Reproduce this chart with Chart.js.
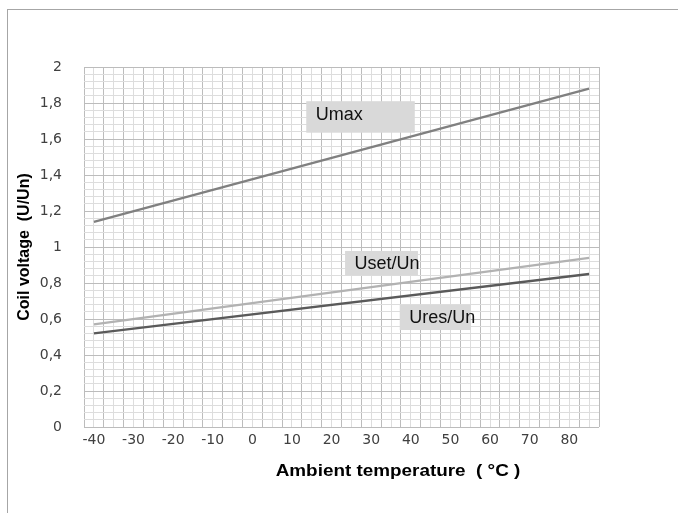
<!DOCTYPE html>
<html lang="en">
<head>
  <meta charset="UTF-8">
  <title>Coil voltage</title>
  <script src="https://cdn.jsdelivr.net/npm/chart.js"></script>
  <style>
    html, body {
      margin: 0;
      padding: 0;
      background: #fff;
      overflow: hidden;
    }
    #wrap {
      position: relative;
      width: 678px;
      height: 513px;
    }
    #frame {
      position: absolute;
      left: 7px;
      top: 9px;
      right: -10px;
      bottom: -10px;
      border-left: 1.5px solid #a6a6a6;
      border-top: 1.5px solid #a6a6a6;
    }
    canvas {
      position: absolute;
      left: 0;
      top: 0;
    }
  </style>
</head>
<body>
<div id="wrap">
  <div id="frame"></div>
  <canvas id="chart" width="678" height="513"></canvas>
</div>

<script>
  // readings (temperature in °C, voltage as U/Un)
  const temps = [-40, 85];
  const umax = [1.14, 1.88];
  const uset = [0.57, 0.94];
  const ures = [0.52, 0.85];
  const xTickLabels = [-40, -30, -20, -10, 0, 10, 20, 30, 40, 50, 60, 70, 80];
  const yTickLabels = [0, 0.2, 0.4, 0.6, 0.8, 1, 1.2, 1.4, 1.6, 1.8, 2];

  // text boxes placed in data units: [text, xFrom, xTo, yTop, yBottom]
  const notes = [
    ['Umax', 13.6, 41.0, 1.81, 1.635],
    ['Uset/Un', 23.4, 41.8, 0.978, 0.844],
    ['Ures/Un', 37.2, 55.1, 0.678, 0.539]
  ];

  const toPts = (ys) => ys.map((y, i) => ({ x: temps[i], y: y }));

  const near = (a, b) => Math.abs(a - b) < 1e-6;

  const notesPlugin = {
    id: 'notes',
    afterDatasetsDraw(chart) {
      const { ctx, scales } = chart;
      ctx.save();
      notes.forEach(([text, x1, x2, yt, yb], i) => {
        const l = scales.x.getPixelForValue(x1);
        const r = scales.x.getPixelForValue(x2);
        const t = scales.y.getPixelForValue(yt);
        const b = scales.y.getPixelForValue(yb);
        ctx.fillStyle = '#d9d9d9';
        ctx.fillRect(l, t, r - l, b - t);
        ctx.fillStyle = '#111';
        ctx.font = '18px "Liberation Sans", Arial, sans-serif';
        ctx.textBaseline = 'middle';
        ctx.textAlign = 'left';
        // the Umax label sits a little high in its box
        ctx.fillText(text, l + 9.5, (t + b) / 2 + (i === 0 ? -2 : 1));
      });
      ctx.restore();
    },
    afterDraw(chart) {
      const { ctx } = chart;
      ctx.save();
      ctx.fillStyle = '#000';
      ctx.textAlign = 'center';
      ctx.textBaseline = 'middle';
      ctx.save();
      ctx.translate(398, 472);
      ctx.scale(1.18, 1);
      ctx.font = 'bold 16px "Liberation Sans", Arial, sans-serif';
      ctx.fillText('Ambient temperature  ( °C )', 0, 0);
      ctx.restore();
      ctx.translate(25, 247);
      ctx.rotate(-Math.PI / 2);
      ctx.font = 'bold 16px "Liberation Sans", Arial, sans-serif';
      ctx.fillText('Coil voltage  (U/Un)', 0, 0);
      ctx.restore();
    }
  };

  const line = (label, data, color) => ({
    label: label,
    data: toPts(data),
    borderColor: color,
    borderWidth: 2.3,
    pointRadius: 0,
    fill: false,
    tension: 0
  });

  new Chart(document.getElementById('chart'), {
    type: 'line',
    data: {
      datasets: [
        line('Umax', umax, '#808080'),
        line('Uset/Un', uset, '#b2b2b2'),
        line('Ures/Un', ures, '#5a5a5a')
      ]
    },
    options: {
      responsive: false,
      animation: false,
      layout: {
        autoPadding: false,
        padding: { top: 67, right: 79, left: 0, bottom: 0 }
      },
      plugins: {
        legend: { display: false },
        tooltip: { enabled: false }
      },
      scales: {
        x: {
          type: 'linear',
          min: -42.5,
          max: 87.5,
          afterBuildTicks(scale) {
            const t = [];
            for (let v = -42.5; v <= 87.5 + 1e-9; v += 2.5) t.push({ value: v });
            scale.ticks = t;
          },
          afterFit(scale) { scale.height = 86; },
          border: { display: false },
          grid: {
            drawTicks: false,
            lineWidth: 1,
            color: (c) => {
              const v = c.tick ? c.tick.value : 0;
              return near(((v + 42.5) % 5 + 5) % 5, 0) ? '#bcbcbc' : '#dddddd';
            }
          },
          ticks: {
            padding: 5,
            autoSkip: false,
            maxRotation: 0,
            color: '#404040',
            font: { family: '"DejaVu Sans", sans-serif', size: 14 },
            callback: (v) => xTickLabels.some(l => near(l, v)) ? String(Math.round(v)) : ''
          }
        },
        y: {
          min: 0,
          max: 2,
          afterBuildTicks(scale) {
            const t = [];
            for (let i = 0; i <= 50; i++) t.push({ value: Math.round(i * 4) / 100 });
            scale.ticks = t;
          },
          afterFit(scale) { scale.width = 84; },
          border: { display: false },
          grid: {
            drawTicks: false,
            lineWidth: 1,
            color: (c) => {
              const v = c.tick ? c.tick.value : 0;
              return yTickLabels.some(l => near(l, v)) ? '#bcbcbc' : '#dddddd';
            }
          },
          ticks: {
            padding: 22,
            autoSkip: false,
            color: '#404040',
            font: { family: '"DejaVu Sans", sans-serif', size: 14 },
            callback: (v) => yTickLabels.some(l => near(l, v)) ? String(Math.round(v * 10) / 10).replace('.', ',') : ''
          }
        }
      }
    },
    plugins: [notesPlugin]
  });
</script>

</body>
</html>
